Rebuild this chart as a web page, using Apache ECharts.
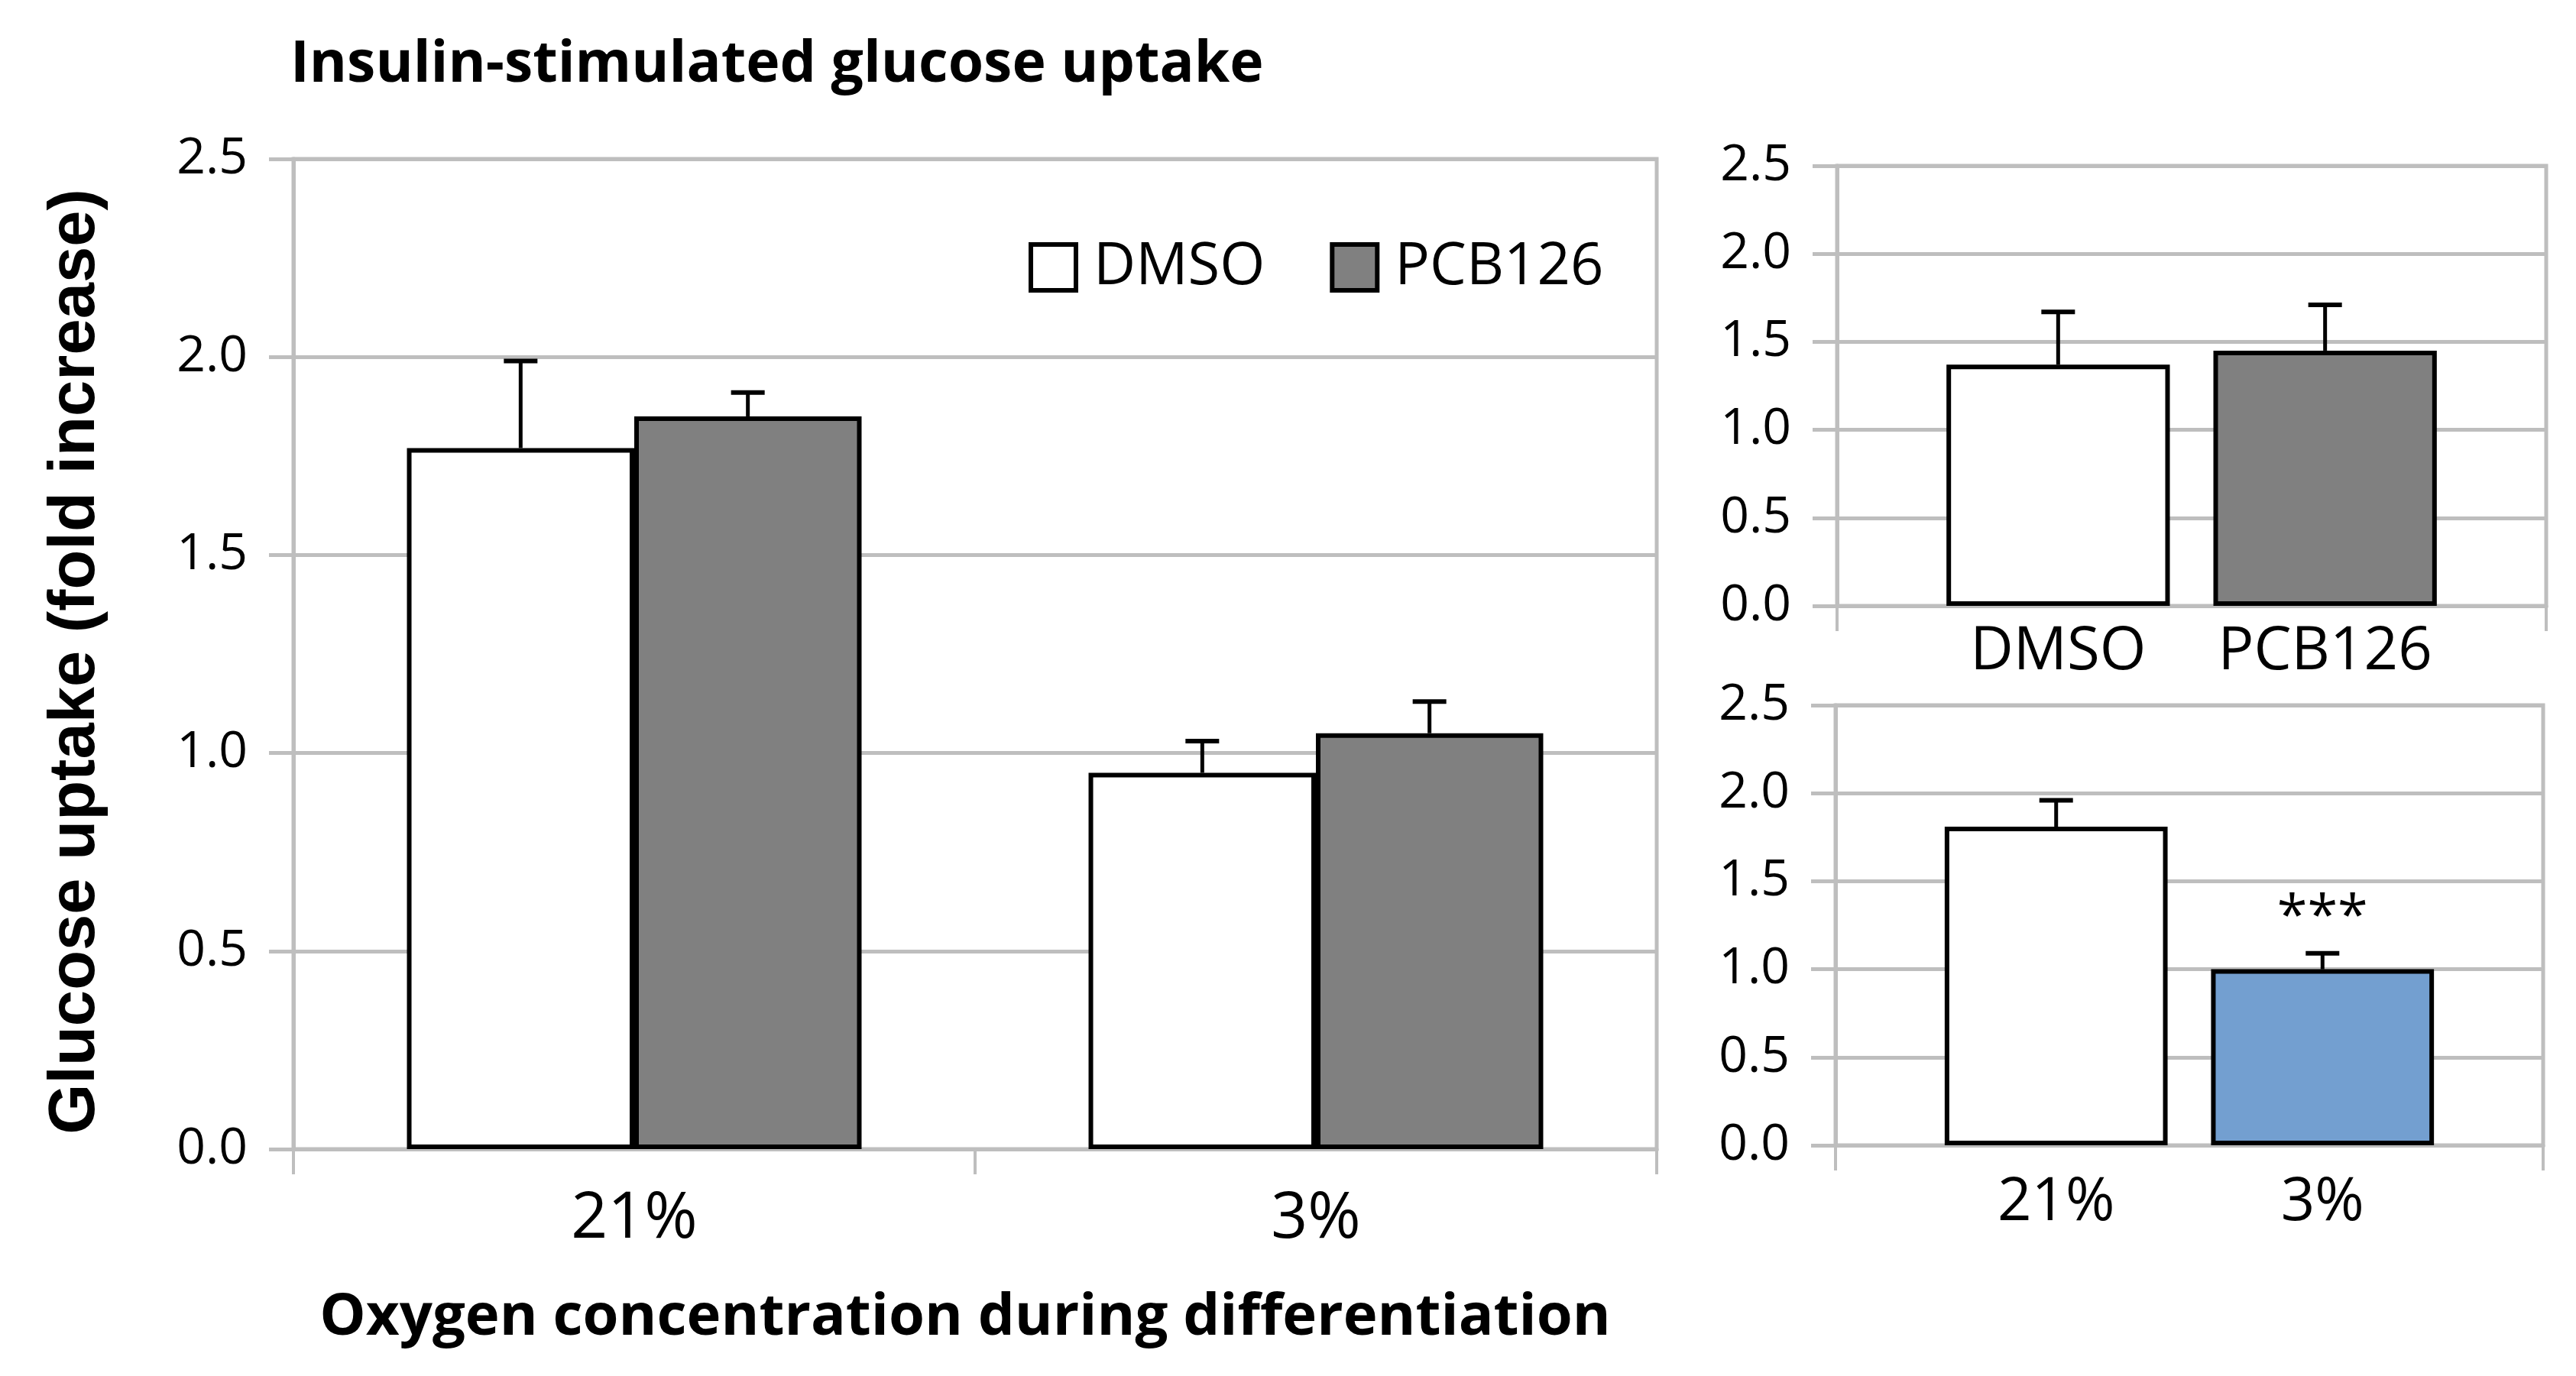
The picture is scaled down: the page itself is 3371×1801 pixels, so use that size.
<!DOCTYPE html>
<html>
<head>
<meta charset="utf-8">
<script src="https://cdn.jsdelivr.net/npm/echarts@6/dist/echarts.min.js"></script>
<style>
html,body{margin:0;padding:0;background:#fff;}
#chart{width:3371px;height:1801px;}
</style>
</head>
<body>
<div id="chart"></div>
<script>
// ---- data ----
const mainCategories = ['21%', '3%'];
const mainDmso = [1.77, 0.95];
const mainDmsoErr = [0.22, 0.08];
const mainPcb = [1.85, 1.05];
const mainPcbErr = [0.06, 0.08];

const treatCategories = ['DMSO', 'PCB126'];
const treatValues = [1.37, 1.45];
const treatErr = [0.30, 0.26];

const oxyCategories = ['21%', '3%'];
const oxyValues = [1.81, 1.00];
const oxyErr = [0.15, 0.09];
const oxySig = ['', '***'];

const legendNames = ['DMSO', 'PCB126'];
const titleText = 'Insulin-stimulated glucose uptake';
const xTitleText = 'Oxygen concentration during differentiation';
const yTitleText = 'Glucose uptake (fold increase)';

// ---- style ----
const GRID = '#bebebe';
const WHITE = '#ffffff';
const GRAY = '#808080';
const BLUE = '#739fd0';
const FONT = '"Open Sans", "Noto Sans", sans-serif';

const chart = echarts.init(document.getElementById('chart'));

function yAxisCfg(gridIndex) {
  return {
    type: 'value', gridIndex: gridIndex, min: 0, max: 2.5, interval: 0.5,
    axisLine: { show: true, lineStyle: { color: GRID, width: 5 } },
    axisTick: { show: true, length: 32, lineStyle: { color: GRID, width: 5 } },
    splitLine: { show: true, lineStyle: { color: GRID, width: 5 } },
    axisLabel: { color: '#000', fontFamily: FONT, fontSize: 66, margin: 60,
      formatter: v => v.toFixed(1) }
  };
}
function xAxisCfg(gridIndex, data, showLabel) {
  return {
    type: 'category', gridIndex: gridIndex, data: data,
    axisLine: { show: true, lineStyle: { color: GRID, width: 5 } },
    axisTick: { show: true, length: 33, lineStyle: { color: GRID, width: 4 } },
    axisLabel: { show: showLabel, color: '#000', fontFamily: FONT, fontSize: 84, margin: 50 },
    splitLine: { show: false }
  };
}

// error bar renderer: offFrac = bar-centre offset as fraction of band width
function errSeries(name, xi, yi, vals, errs, offFrac, sigs) {
  return {
    type: 'custom', name: name, xAxisIndex: xi, yAxisIndex: yi, z: 5,
    data: vals.map((v, i) => [i, v, errs[i]]),
    renderItem: function (params, api) {
      const x = api.value(0), v = api.value(1), e = api.value(2);
      const base = api.coord([x, v]);
      const top = api.coord([x, v + e]);
      const bw = api.size([1, 0])[0];
      const cx = base[0] + offFrac * bw;
      const children = [
        { type: 'line', shape: { x1: cx, y1: base[1], x2: cx, y2: top[1] },
          style: { stroke: '#000', lineWidth: 5 } },
        { type: 'line', shape: { x1: cx - 22, y1: top[1], x2: cx + 22, y2: top[1] },
          style: { stroke: '#000', lineWidth: 6 } }
      ];
      if (sigs && sigs[params.dataIndex]) {
        children.push({ type: 'text', style: {
          text: sigs[params.dataIndex], x: cx, y: top[1] - 46,
          align: 'center', verticalAlign: 'middle',
          fontFamily: FONT, fontSize: 72, fill: '#000' } });
      }
      return { type: 'group', children: children };
    }
  };
}

const barBorder = { borderColor: '#000', borderWidth: 6 };

function singleBar(name, xi, yi, value, color, labelText, dist) {
  return {
    type: 'bar', name: name, xAxisIndex: xi, yAxisIndex: yi,
    barWidth: '31.5%', barGap: '19.5%',
    data: [value],
    itemStyle: Object.assign({ color: color }, barBorder),
    label: { show: true, position: 'bottom', distance: dist, formatter: labelText,
      color: '#000', fontFamily: FONT, fontSize: 78 },
    emphasis: { disabled: true }
  };
}

const singleOff = 0.315 * 1.195 / 2;

const option = {
  animation: false,
  backgroundColor: '#fff',
  grid: [
    { left: 384, top: 208, width: 1784, height: 1296, show: true, borderColor: GRID, borderWidth: 5 },
    { left: 2404, top: 217, width: 928, height: 576, show: true, borderColor: GRID, borderWidth: 5 },
    { left: 2402, top: 923, width: 926, height: 576, show: true, borderColor: GRID, borderWidth: 5 }
  ],
  xAxis: [
    xAxisCfg(0, mainCategories, true),
    xAxisCfg(1, [''], false),
    xAxisCfg(2, [''], false)
  ],
  yAxis: [yAxisCfg(0), yAxisCfg(1), yAxisCfg(2)],
  legend: {
    left: 1341, top: 307, itemWidth: 59, itemHeight: 60, itemGap: 85,
    icon: 'rect', selectedMode: false,
    textStyle: { color: '#000', fontFamily: FONT, fontSize: 76, padding: [0, 0, 0, 18] },
    data: [
      { name: legendNames[0], itemStyle: { color: WHITE, borderColor: '#000', borderWidth: 6 } },
      { name: legendNames[1], itemStyle: { color: GRAY, borderColor: '#000', borderWidth: 6 } }
    ]
  },
  graphic: [
    { type: 'text', style: { x: 380, y: 86, text: titleText, align: 'left', verticalAlign: 'middle',
      fontFamily: FONT, fontWeight: 'bold', fontSize: 75, fill: '#000' } },
    { type: 'text', style: { x: 1263, y: 1725, text: xTitleText, align: 'center', verticalAlign: 'middle',
      fontFamily: FONT, fontWeight: 'bold', fontSize: 76, fill: '#000' } },
    { type: 'text', x: 100, y: 866, rotation: Math.PI / 2,
      style: { x: 0, y: 0, text: yTitleText, align: 'center', verticalAlign: 'middle',
      fontFamily: '"Liberation Sans", Arial, sans-serif', fontWeight: 'bold', fontSize: 85, fill: '#000' } }
  ],
  series: [
    { type: 'bar', name: legendNames[0], xAxisIndex: 0, yAxisIndex: 0, data: mainDmso,
      barCategoryGap: '33.3%', barGap: '0%',
      itemStyle: Object.assign({ color: WHITE }, barBorder), emphasis: { disabled: true } },
    { type: 'bar', name: legendNames[1], xAxisIndex: 0, yAxisIndex: 0, data: mainPcb,
      barCategoryGap: '33.3%', barGap: '0%',
      itemStyle: Object.assign({ color: GRAY }, barBorder), emphasis: { disabled: true } },
    errSeries('errDmso', 0, 0, mainDmso, mainDmsoErr, -1 / 6),
    errSeries('errPcb', 0, 0, mainPcb, mainPcbErr, 1 / 6),

    singleBar('t0', 1, 1, treatValues[0], WHITE, treatCategories[0], 22),
    singleBar('t1', 1, 1, treatValues[1], GRAY, treatCategories[1], 22),
    errSeries('errT0', 1, 1, [treatValues[0]], [treatErr[0]], -singleOff),
    errSeries('errT1', 1, 1, [treatValues[1]], [treatErr[1]], singleOff),

    singleBar('o0', 2, 2, oxyValues[0], WHITE, oxyCategories[0], 37),
    singleBar('o1', 2, 2, oxyValues[1], BLUE, oxyCategories[1], 37),
    errSeries('errO0', 2, 2, [oxyValues[0]], [oxyErr[0]], -singleOff, [oxySig[0]]),
    errSeries('errO1', 2, 2, [oxyValues[1]], [oxyErr[1]], singleOff, [oxySig[1]])
  ]
};
chart.setOption(option);
</script>
</body>
</html>
